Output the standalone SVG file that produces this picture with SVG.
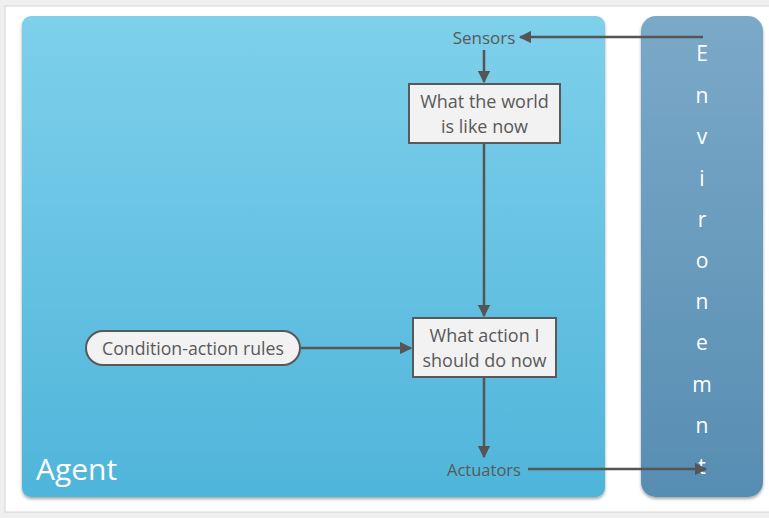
<svg xmlns="http://www.w3.org/2000/svg" width="769" height="518" viewBox="0 0 769 518">
  <defs>
    <linearGradient id="agentFill" x1="0" y1="0" x2="0" y2="1">
      <stop offset="0" stop-color="#7ed0eb"/>
      <stop offset="1" stop-color="#4fb5da"/>
    </linearGradient>
    <linearGradient id="envFill" x1="0" y1="0" x2="0" y2="1">
      <stop offset="0" stop-color="#7ba9c8"/>
      <stop offset="1" stop-color="#578db2"/>
    </linearGradient>
    <filter id="shadow" x="-5%" y="-5%" width="110%" height="110%">
      <feDropShadow dx="0" dy="2" stdDeviation="1.5" flood-color="#000" flood-opacity="0.35"/>
    </filter>
    <marker id="arrow" viewBox="0 0 10 10" refX="9" refY="5" markerWidth="5" markerHeight="5" orient="auto-start-reverse" markerUnits="strokeWidth">
      <path d="M0,0 L10,5 L0,10 Z" fill="#555555"/>
    </marker>
    <style>
      .box { fill: #f2f2f2; stroke: #595959; stroke-width: 2; }
      .lbl { font-family: "Open Sans", "Liberation Sans", sans-serif; fill: #595959; text-anchor: middle; }
      .env { font-family: "Open Sans", "Liberation Sans", sans-serif; fill: #ffffff; font-size: 21px; text-anchor: middle; }
      .conn { stroke: #555555; stroke-width: 2.5; fill: none; marker-end: url(#arrow); }
    </style>
  </defs>

  <!-- page frame -->
  <rect x="0" y="0" width="769" height="518" fill="#efefef"/>
  <rect x="5" y="6" width="770" height="506" fill="#ffffff" stroke="#d6d6d6" stroke-width="1"/>

  <!-- agent panel -->
  <g id="agent">
    <rect x="22" y="16" width="583" height="481" rx="9" fill="url(#agentFill)" filter="url(#shadow)"/>
    <text x="36" y="480" font-family="Open Sans, Liberation Sans, sans-serif" font-size="30" fill="#ffffff">Agent</text>
  </g>

  <!-- environment panel -->
  <g id="environment">
    <rect x="641" y="16" width="122" height="481" rx="15" fill="url(#envFill)" filter="url(#shadow)"/>
    <text class="env" x="702" y="61">E</text>
    <text class="env" x="702" y="103">n</text>
    <text class="env" x="702" y="144">v</text>
    <text class="env" x="702" y="186">i</text>
    <text class="env" x="702" y="227">r</text>
    <text class="env" x="702" y="268">o</text>
    <text class="env" x="702" y="309">n</text>
    <text class="env" x="702" y="350">e</text>
    <text class="env" x="702" y="392">m</text>
    <text class="env" x="702" y="433">n</text>
    <text class="env" x="702" y="474">t</text>
  </g>

  <g id="sensors">
    <text class="lbl" x="484" y="43.5" font-size="17">Sensors</text>
  </g>

  <g id="world-state">
    <rect class="box" x="409" y="84" width="151" height="59"/>
    <text class="lbl" x="484.5" y="108" font-size="18">What the world</text>
    <text class="lbl" x="484.5" y="132.5" font-size="18">is like now</text>
  </g>

  <g id="rules">
    <rect class="box" x="86" y="331" width="214" height="34" rx="17"/>
    <text class="lbl" x="193" y="354.5" font-size="17.7">Condition-action rules</text>
  </g>

  <g id="action">
    <rect class="box" x="413" y="318" width="143" height="59"/>
    <text class="lbl" x="484.5" y="342" font-size="18">What action I</text>
    <text class="lbl" x="484.5" y="366.5" font-size="18">should do now</text>
  </g>

  <g id="actuators">
    <text class="lbl" x="484" y="476" font-size="16.5">Actuators</text>
  </g>

  <!-- connectors -->
  <g id="connectors">
    <line class="conn" x1="703" y1="37" x2="520" y2="37"/>
    <line class="conn" x1="484" y1="50" x2="484" y2="82"/>
    <line class="conn" x1="484" y1="144" x2="484" y2="316"/>
    <line class="conn" x1="301" y1="348" x2="411" y2="348"/>
    <line class="conn" x1="484" y1="378" x2="484" y2="457"/>
    <line class="conn" x1="528" y1="469" x2="706" y2="469"/>
  </g>
</svg>
